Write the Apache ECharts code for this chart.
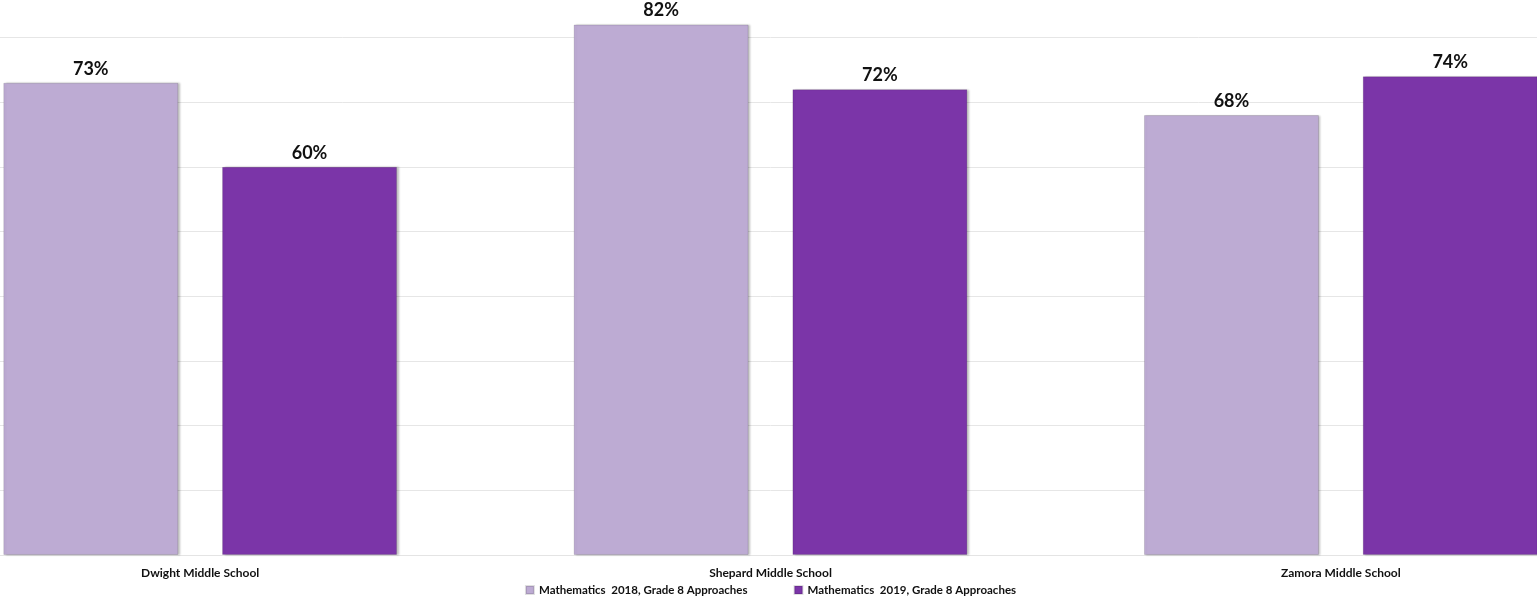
<!DOCTYPE html>
<html>
<head>
<meta charset="utf-8">
<script src="https://cdn.jsdelivr.net/npm/echarts@6/dist/echarts.min.js"></script>
<style>html,body{margin:0;padding:0;background:#fff;overflow:hidden;width:1537px;height:604px;position:relative;}
#c{position:absolute;left:-85px;top:-92px;width:1711px;height:696px;}</style>
</head>
<body>
<div id="c"></div>
<script>
const categories = ['Dwight Middle School', 'Shepard Middle School', 'Zamora Middle School'];
const seriesNames = ['Mathematics  2018, Grade 8 Approaches', 'Mathematics  2019, Grade 8 Approaches'];
const values2018 = [73, 82, 68];
const values2019 = [60, 72, 74];
const colors = ['#BDABD3', '#7B35A8'];

const chart = echarts.init(document.getElementById('c'));
const font = 'Lato, "Open Sans", sans-serif';
function mk(name, data, color) {
  return {
    name: name, type: 'bar', data: data, barWidth: 175, barGap: '25%',
    itemStyle: { color: color, borderColor: 'rgba(0,0,0,0.12)', borderWidth: 1,
      shadowColor: 'rgba(0,0,0,0.25)', shadowOffsetX: 2, shadowOffsetY: 0, shadowBlur: 2 },
    label: { show: true, position: 'top', distance: 5, formatter: '{c}%',
      fontFamily: font, fontWeight: 'bold', fontSize: 18, color: '#111' }
  };
}
chart.setOption({
  animation: false,
  color: colors,
  grid: { left: 0, right: 0, top: 0, bottom: 49, containLabel: false },
  legend: { bottom: 3, left: 'center', itemWidth: 8, itemHeight: 8, itemGap: 46, icon: 'rect',
    textStyle: { fontFamily: font, fontWeight: 'bold', fontSize: 11.5, color: '#111' },
    data: seriesNames },
  xAxis: { type: 'category', data: categories,
    axisLine: { show: true, lineStyle: { color: '#e4e4e4' } }, axisTick: { show: false },
    axisLabel: { fontFamily: font, fontWeight: 'bold', fontSize: 12, color: '#111', margin: 12 } },
  yAxis: { type: 'value', min: 0, max: 100, interval: 10,
    axisLabel: { show: false }, axisLine: { show: false }, axisTick: { show: false },
    splitLine: { lineStyle: { color: '#e6e6e6' } } },
  series: [mk(seriesNames[0], values2018, colors[0]), mk(seriesNames[1], values2019, colors[1])]
});
</script>
</body>
</html>
